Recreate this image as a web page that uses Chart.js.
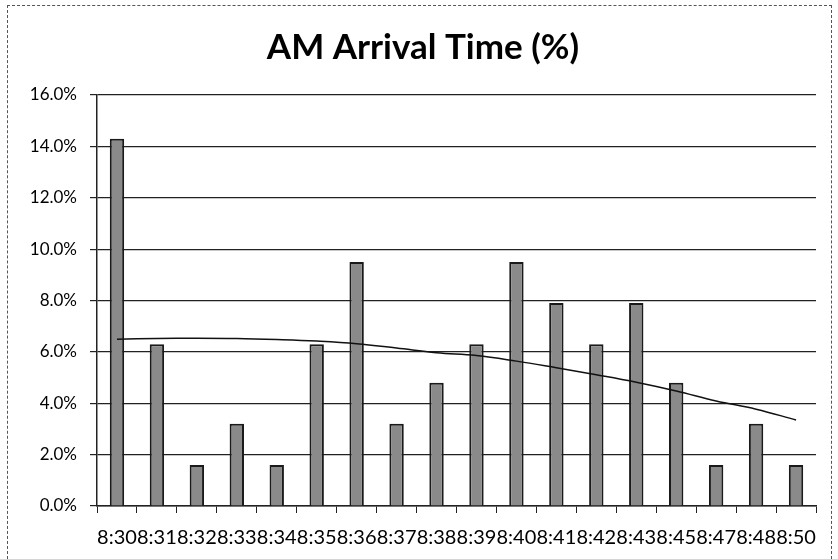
<!DOCTYPE html>
<html><head><meta charset="utf-8">
<script src="https://cdn.jsdelivr.net/npm/chart.js@4/dist/chart.umd.min.js"></script>
<style>
html,body{margin:0;padding:0;background:#fff;}
#wrap{position:absolute;left:7px;top:5px;width:825px;height:554px;border:1px dashed #555;border-bottom:none;box-sizing:border-box;}
#c{position:absolute;left:0;top:0;}
</style></head><body>
<div id="wrap"></div>
<canvas id="c" width="838" height="559"></canvas>
<script>
const categories = ['8:30','8:31','8:32','8:33','8:34','8:35','8:36','8:37','8:38','8:39','8:40','8:41','8:42','8:43','8:45','8:47','8:48','8:50'];
const arrivalPct = [14.3,6.3,1.6,3.2,1.6,6.3,9.5,3.2,4.8,6.3,9.5,7.9,6.3,7.9,4.8,1.6,3.2,1.6];
const trendPct = [6.49,6.52,6.53,6.52,6.48,6.42,6.32,6.15,5.97,5.86,5.64,5.38,5.11,4.82,4.48,4.09,3.77,3.35];
const yTicks = [0,2,4,6,8,10,12,14,16];

const FONT = 'Lato, "Open Sans", sans-serif';
new Chart(document.getElementById('c'), {
  data: {
    labels: categories,
    datasets: [
      { type: 'line', data: trendPct, borderColor: '#111', borderWidth: 1.5, pointRadius: 0, tension: 0.4, fill: false, order: 0 },
      { type: 'bar', data: arrivalPct, backgroundColor: '#8a8a8a', borderColor: '#1a1a1a', borderWidth: 2, categoryPercentage: 1, barPercentage: 0.36, order: 1 }
    ]
  },
  options: {
    responsive: false, animation: false,
    layout: { padding: { left: 30, right: 22, top: 8, bottom: 9 } },
    plugins: {
      legend: { display: false }, tooltip: { enabled: false },
      title: { display: true, text: 'AM Arrival Time (%)', color: '#000',
        font: { family: FONT, size: 35, weight: 'bold' }, padding: { top: 19, bottom: 26 } }
    },
    scales: {
      x: {
        afterFit: (s) => { s.height = 44; },
        grid: { drawOnChartArea: false, color: '#222', tickLength: 7, offset: true },
        border: { color: '#222', width: 1.5 },
        ticks: { color: '#000', autoSkip: false, maxRotation: 0, padding: 13, font: { family: FONT, size: 20 } }
      },
      y: {
        min: 0, max: 16,
        afterFit: (s) => { s.width = 67; },
        afterBuildTicks: (ax) => { ax.ticks = yTicks.map(v => ({ value: v })); },
        grid: { color: '#222', lineWidth: 1.2, tickLength: 7 },
        border: { color: '#222', width: 1.5 },
        ticks: { color: '#000', padding: 13, font: { family: FONT, size: 17 },
          callback: (v) => v.toFixed(1) + '%' }
      }
    }
  }
});
</script>
</body></html>
